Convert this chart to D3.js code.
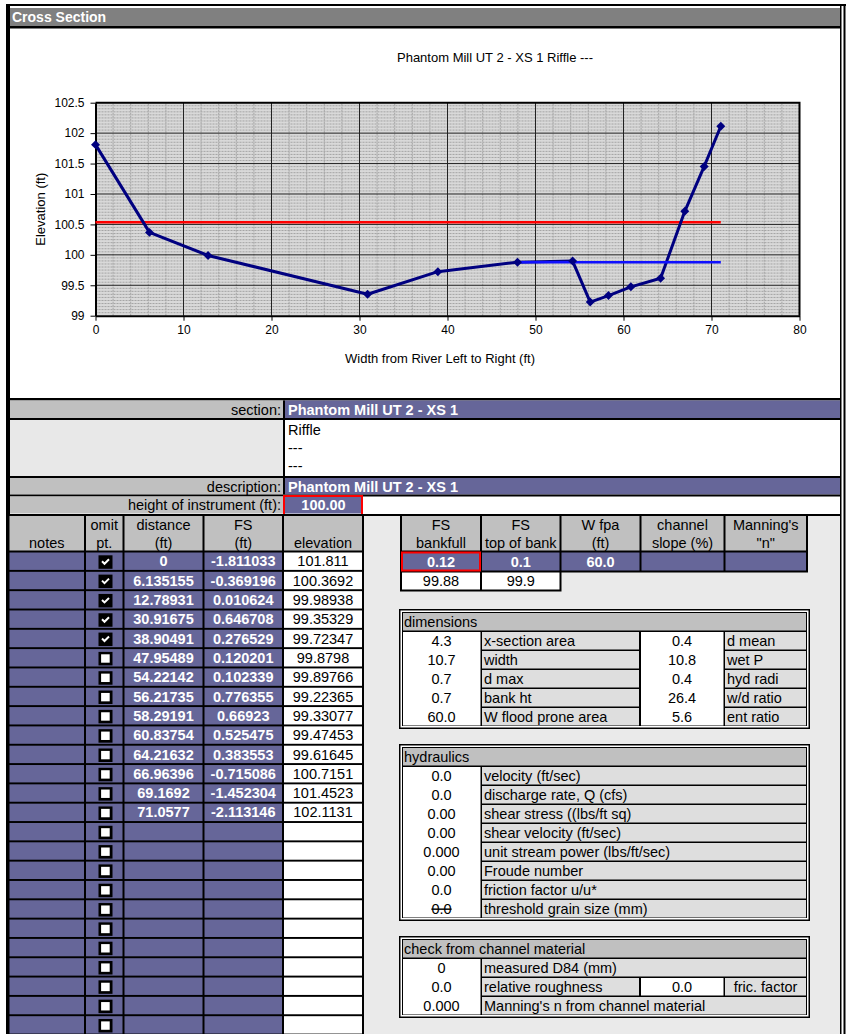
<!DOCTYPE html>
<html>
<head>
<meta charset="utf-8">
<script src="https://cdn.jsdelivr.net/npm/d3@7"></script>
<style>
  body { margin: 0; background: #fff; }
  svg { display: block; font-family: Arial, "Liberation Sans", sans-serif; }
</style>
</head>
<body>
<svg id="sheet" width="846" height="1034"></svg>
<script>
// ---- survey data -------------------------------------------------------
const sectionName = "Phantom Mill UT 2 - XS 1";
const sectionNotes = ["Riffle", "---", "---"];
const instrumentHeight = 100;
const distances = [0, 6.135155, 12.78931, 30.91675, 38.90491, 47.95489, 54.22142,
  56.21735, 58.29191, 60.83754, 64.21632, 66.96396, 69.1692, 71.0577];
const foresights = [-1.811033, -0.369196, 0.010624, 0.646708, 0.276529, 0.120201, 0.102339,
  0.776355, 0.66923, 0.525475, 0.383553, -0.715086, -1.452304, -2.113146];
const omitted = [true, true, true, true, true, false, false,
  false, false, false, false, false, false, false];
const emptyRowCount = 11;

const bankfullFS = 0.12;
const topOfBankFS = 0.1;
const floodProneWidth = 60.0;

// ---- axis ticks --------------------------------------------------------
const xTicks = [0, 10, 20, 30, 40, 50, 60, 70, 80];
const yTicks = [99, 99.5, 100, 100.5, 101, 101.5, 102, 102.5];

// ---- summary tables ----------------------------------------------------
const dimLeftValues = ["4.3", "10.7", "0.7", "0.7", "60.0"];
const dimLeftLabels = ["x-section area", "width", "d max", "bank ht", "W flood prone area"];
const dimRightValues = ["0.4", "10.8", "0.4", "26.4", "5.6"];
const dimRightLabels = ["d mean", "wet P", "hyd radi", "w/d ratio", "ent ratio"];

const hydValues = ["0.0", "0.0", "0.00", "0.00", "0.000", "0.00", "0.0", "0.0"];
const hydLabels = ["velocity (ft/sec)", "discharge rate, Q (cfs)", "shear stress ((lbs/ft sq)",
  "shear velocity (ft/sec)", "unit stream power (lbs/ft/sec)", "Froude number",
  "friction factor u/u*", "threshold grain size (mm)"];

const checkValues = ["0", "0.0", "0.000"];
const checkLabels = ["measured D84 (mm)", "relative roughness", "Manning's n from channel material"];
const fricFactorValue = "0.0";

// ---- derived values ----------------------------------------------------
const elevations = foresights.map(fs => instrumentHeight - fs);
const bankfullElev = instrumentHeight - bankfullFS;
const topOfBankElev = instrumentHeight - topOfBankFS;
const thalweg = d3.min(elevations);
const floodProneElev = thalweg + 2 * (bankfullElev - thalweg);
const points = distances.map((d, i) => ({ d, e: elevations[i], fs: foresights[i], omit: omitted[i] }));
const activeExtent = d3.extent(points.filter(p => !p.omit), p => p.d);
const fullExtent = d3.extent(distances);
// spreadsheet "General" style: 7 significant digits, half rounded up
const general = v => String(parseFloat((v + 1e-9).toPrecision(7)));

// ---- colours -----------------------------------------------------------
const PURPLE = "#666699", HEAD = "#c0c0c0", PANEL = "#eaeaea", LABEL = "#dedede";

const svg = d3.select("#sheet");

function rect(x, y, w, h, fill, parent = svg) {
  return parent.append("rect").attr("x", x).attr("y", y)
    .attr("width", w).attr("height", h).attr("fill", fill);
}
function txt(x, y, s, o = {}) {
  const t = (o.parent || svg).append("text")
    .attr("x", x).attr("y", y)
    .attr("font-size", o.size || 14.5)
    .attr("font-weight", o.weight || "normal")
    .attr("fill", o.fill || "#000")
    .attr("text-anchor", o.anchor || "start")
    .style("white-space", "pre")
    .text(s);
  if (o.strike) t.style("text-decoration", "line-through");
  return t;
}

// ---- page frame and title bar -----------------------------------------
rect(6, 4, 840, 2, "#000");
rect(6, 4, 4, 1030, "#000");
rect(840, 6, 1.5, 1028, "#000");
rect(843.5, 4, 2, 1030, "#000");
rect(10, 8, 830, 18, "#808080");
txt(12, 22, "Cross Section", { size: 14, weight: "bold", fill: "#fff" });
rect(10, 26, 830, 2.5, "#000");

// ---- chart -------------------------------------------------------------
const chart = svg.append("g");
const x = d3.scaleLinear().domain([0, 80]).range([95.5, 799.5]);
const y = d3.scaleLinear().domain([99, 102.5]).range([315.7, 102.7]);

rect(x(0), y(102.5), x(80) - x(0), y(99) - y(102.5), "#d9d9d9", chart);

const minorX = d3.range(1, 40).map(i => i * 2).filter(v => v % 10 !== 0);
const minorY = d3.range(1, 70).filter(i => i % 10 !== 0).map(i => 99 + i * 0.05);
chart.append("g").selectAll("line").data(minorX).join("line")
  .attr("x1", d => x(d)).attr("x2", d => x(d))
  .attr("y1", y(99)).attr("y2", y(102.5))
  .attr("stroke", "#a4a4a4").attr("stroke-width", 1).attr("stroke-dasharray", "2,1");
chart.append("g").selectAll("line").data(minorY).join("line")
  .attr("x1", x(0)).attr("x2", x(80))
  .attr("y1", d => y(d)).attr("y2", d => y(d))
  .attr("stroke", "#a4a4a4").attr("stroke-width", 1).attr("stroke-dasharray", "2,1");
chart.append("g").selectAll("line").data(xTicks.slice(1, -1)).join("line")
  .attr("x1", d => x(d)).attr("x2", d => x(d))
  .attr("y1", y(99)).attr("y2", y(102.5))
  .attr("stroke", "#222").attr("stroke-width", 1);
chart.append("g").selectAll("line").data(yTicks.slice(1, -1)).join("line")
  .attr("x1", x(0)).attr("x2", x(80))
  .attr("y1", d => y(d)).attr("y2", d => y(d))
  .attr("stroke", "#222").attr("stroke-width", 1);

// plot frame (top and right)
chart.append("path")
  .attr("d", `M${x(0)},${y(102.5)}H${x(80)}V${y(99)}`)
  .attr("fill", "none").attr("stroke", "#000").attr("stroke-width", 2);

const yAxis = chart.append("g").attr("transform", `translate(${x(0)},0)`)
  .call(d3.axisLeft(y).tickValues(yTicks).tickFormat(d => String(d))
    .tickSize(5).tickSizeOuter(0).tickPadding(6));
const xAxis = chart.append("g").attr("transform", `translate(0,${y(99)})`)
  .call(d3.axisBottom(x).tickValues(xTicks).tickFormat(d => String(d))
    .tickSize(5).tickSizeOuter(0).tickPadding(5));
[yAxis, xAxis].forEach(a => {
  a.selectAll("text").attr("font-size", 12).attr("font-family", "Arial, 'Liberation Sans', sans-serif").attr("fill", "#000");
  a.selectAll("line").attr("stroke", "#000");
  a.select(".domain").attr("stroke", "#000").attr("stroke-width", 2);
});

txt(495, 61.5, `${sectionName} ${sectionNotes.slice(0, 2).join(" ")}`, { size: 13, anchor: "middle", parent: chart });
txt(440, 362.5, "Width from River Left to Right (ft)", { size: 13, anchor: "middle", parent: chart });
txt(0, 0, "Elevation (ft)", { size: 13, anchor: "middle", parent: chart })
  .attr("transform", `translate(45,${(y(99) + y(102.5)) / 2}) rotate(-90)`);

const line = d3.line().x(p => x(p[0])).y(p => y(p[1]));
chart.append("path")
  .attr("d", line([[0, floodProneElev], [fullExtent[1], floodProneElev]]))
  .attr("stroke", "#ff0000").attr("stroke-width", 2.5).attr("fill", "none");
chart.append("path")
  .attr("d", d3.line().x(p => x(p.d)).y(p => y(p.e))(points))
  .attr("stroke", "#000080").attr("stroke-width", 3).attr("fill", "none")
  .attr("stroke-linejoin", "round");
chart.append("path")
  .attr("d", line([[activeExtent[0], bankfullElev], [activeExtent[1], bankfullElev]]))
  .attr("stroke", "#1010ff").attr("stroke-width", 2.5).attr("fill", "none");
chart.append("g").selectAll("path").data(points).join("path")
  .attr("d", d3.symbol(d3.symbolSquare, 40)())
  .attr("transform", p => `translate(${x(p.d)},${y(p.e)}) rotate(45)`)
  .attr("fill", "#000080");

// ---- section header rows ------------------------------------------------
rect(10, 398, 830, 2.5, "#000");
rect(10, 400.5, 273, 17.5, HEAD);
rect(283, 400.5, 2, 17.5, "#000");
rect(285, 400.5, 555, 17.5, PURPLE);
txt(281, 414.5, "section:", { anchor: "end" });
txt(288, 414.5, sectionName, { weight: "bold", fill: "#fff" });
rect(10, 418, 830, 2, "#000");
rect(10, 420, 273, 56, "#e8e8e8");
rect(283, 420, 2, 56, "#000");
sectionNotes.forEach((s, i) => txt(288, 435 + i * 18, s));
rect(10, 476, 830, 2, "#000");
rect(10, 478, 273, 16.5, HEAD);
rect(283, 478, 2, 16.5, "#000");
rect(285, 478, 555, 16.5, PURPLE);
txt(281, 491.5, "description:", { anchor: "end" });
txt(288, 491.5, sectionName, { weight: "bold", fill: "#fff" });
rect(10, 494.5, 830, 2, "#000");
rect(10, 496.5, 273, 17, HEAD);
rect(283, 496.5, 2, 17, "#000");
rect(285, 496.5, 77, 17, PURPLE);
txt(281, 510, "height of instrument (ft):", { anchor: "end" });
txt(323.5, 510, instrumentHeight.toFixed(2), { weight: "bold", fill: "#fff", anchor: "middle" });
svg.append("rect").attr("x", 284).attr("y", 496).attr("width", 78).attr("height", 19)
  .attr("fill", "none").attr("stroke", "#ff0000").attr("stroke-width", 2);
rect(10, 514, 830, 2, "#000");

// ---- survey point table ------------------------------------------------
rect(364, 516, 476, 518, PANEL);
rect(6, 516, 358, 518, "#000");
const cols = [[9.5, 84], [86, 122.5], [124.5, 202.5], [204.5, 282], [284, 362]];
const mid = c => (c[0] + c[1]) / 2;
cols.forEach(c => rect(c[0], 516, c[1] - c[0], 34.5, HEAD));
txt(mid(cols[0]), 547.5, "notes", { anchor: "middle" });
txt(mid(cols[1]), 529.5, "omit", { anchor: "middle" });
txt(mid(cols[1]), 547.5, "pt.", { anchor: "middle" });
txt(mid(cols[2]), 529.5, "distance", { anchor: "middle" });
txt(mid(cols[2]), 547.5, "(ft)", { anchor: "middle" });
txt(mid(cols[3]), 529.5, "FS", { anchor: "middle" });
txt(mid(cols[3]), 547.5, "(ft)", { anchor: "middle" });
txt(mid(cols[4]), 547.5, "elevation", { anchor: "middle" });

const rows = points.concat(d3.range(emptyRowCount).map(() => null));
rows.forEach((p, i) => {
  const top = 552.5 + i * 19.32, h = 17.4;
  cols.forEach((c, j) => rect(c[0], top, c[1] - c[0], h, j === 4 ? "#fff" : PURPLE));
  // omit checkbox
  const bx = 98.5, by = top + 2.8;
  rect(bx, by, 14, 13.5, "#000");
  if (p && p.omit) {
    svg.append("path")
      .attr("d", `M${bx + 3.5},${by + 6}L${bx + 6},${by + 8.5}L${bx + 10.5},${by + 4}`)
      .attr("fill", "none").attr("stroke", "#fff").attr("stroke-width", 2);
  } else {
    rect(bx + 2.6, by + 2.4, 8.6, 8.4, "#fff");
  }
  if (p) {
    const base = top + 13.8;
    txt(mid(cols[2]), base, String(p.d), { weight: "bold", fill: "#fff", anchor: "middle" });
    txt(mid(cols[3]), base, String(p.fs), { weight: "bold", fill: "#fff", anchor: "middle" });
    txt(mid(cols[4]), base, general(p.e), { anchor: "middle" });
  }
});

// ---- bankfull / top of bank inputs --------------------------------------
const rcols = [[402, 480], [482, 559.5], [561.5, 639.5], [641.5, 723.5], [725.5, 806]];
rect(400, 514, 408, 58.5, "#000");
rect(400, 572, 161.5, 19.5, "#000");
const rhead = [["FS", "bankfull"], ["FS", "top of bank"], ["W fpa", "(ft)"], ["channel", "slope (%)"], ["Manning's", "\"n\""]];
rcols.forEach((c, j) => {
  rect(c[0], 516, c[1] - c[0], 34.5, HEAD);
  txt(mid(c), 529.5, rhead[j][0], { anchor: "middle" });
  txt(mid(c), 547.5, rhead[j][1], { anchor: "middle" });
  rect(c[0], 552.5, c[1] - c[0], 18, PURPLE);
});
const inputVals = [String(bankfullFS), String(topOfBankFS), floodProneWidth.toFixed(1)];
inputVals.forEach((v, j) => txt(mid(rcols[j]), 566.5, v, { weight: "bold", fill: "#fff", anchor: "middle" }));
svg.append("rect").attr("x", 402).attr("y", 552.5).attr("width", 78).attr("height", 18)
  .attr("fill", "none").attr("stroke", "#ff0000").attr("stroke-width", 2);
[bankfullElev, topOfBankElev].forEach((v, j) => {
  rect(rcols[j][0], 572.5, rcols[j][1] - rcols[j][0], 17, "#fff");
  txt(mid(rcols[j]), 586, general(v), { anchor: "middle" });
});

// ---- summary boxes ------------------------------------------------------
function box(top, title, n) {
  const X0 = 399, X1 = 810, pitch = 19;
  const innerBottom = top + 23 + n * pitch - 1.5;
  const bottom = innerBottom + 3.5;
  rect(X0, top, X1 - X0, bottom - top, "#000");
  rect(X0 + 1.5, top + 1.5, X1 - X0 - 3, bottom - top - 3, "#fff");
  rect(X0 + 3, top + 3, X1 - X0 - 6, bottom - top - 6, "#000");
  rect(403, top + 4, 403, 17.5, HEAD);
  txt(404, top + 18, title);
  rect(403, top + 23, 77.5, innerBottom - (top + 23), "#fff");
  return d3.range(n).map(i => top + 23 + i * pitch);
}

// dimensions
const dimTops = box(609, "dimensions", dimLeftValues.length);
rect(641, dimTops[0], 82.5, dimTops[dimTops.length - 1] + 17.5 - dimTops[0], "#fff");
dimTops.forEach((t, i) => {
  rect(482, t, 157, 17.5, LABEL);
  rect(725, t, 81, 17.5, LABEL);
  txt(441.5, t + 13.5, dimLeftValues[i], { anchor: "middle" });
  txt(484, t + 13.5, dimLeftLabels[i]);
  txt(682, t + 13.5, dimRightValues[i], { anchor: "middle" });
  txt(727, t + 13.5, dimRightLabels[i]);
});

// hydraulics
const hydTops = box(744, "hydraulics", hydValues.length);
hydTops.forEach((t, i) => {
  rect(482, t, 324, 17.5, LABEL);
  txt(441.5, t + 13.5, hydValues[i], { anchor: "middle", strike: i === hydValues.length - 1 });
  txt(484, t + 13.5, hydLabels[i]);
});

// check from channel material
const chkTops = box(936, "check from channel material", checkValues.length);
chkTops.forEach((t, i) => {
  txt(441.5, t + 13.5, checkValues[i], { anchor: "middle" });
  if (i === 1) {
    rect(482, t, 157, 17.5, LABEL);
    rect(641, t, 82.5, 17.5, "#fff");
    rect(725, t, 81, 17.5, LABEL);
    txt(682, t + 13.5, fricFactorValue, { anchor: "middle" });
    txt(765.5, t + 13.5, "fric. factor", { anchor: "middle" });
  } else {
    rect(482, t, 324, 17.5, LABEL);
  }
  txt(484, t + 13.5, checkLabels[i]);
});
</script>
</body>
</html>
